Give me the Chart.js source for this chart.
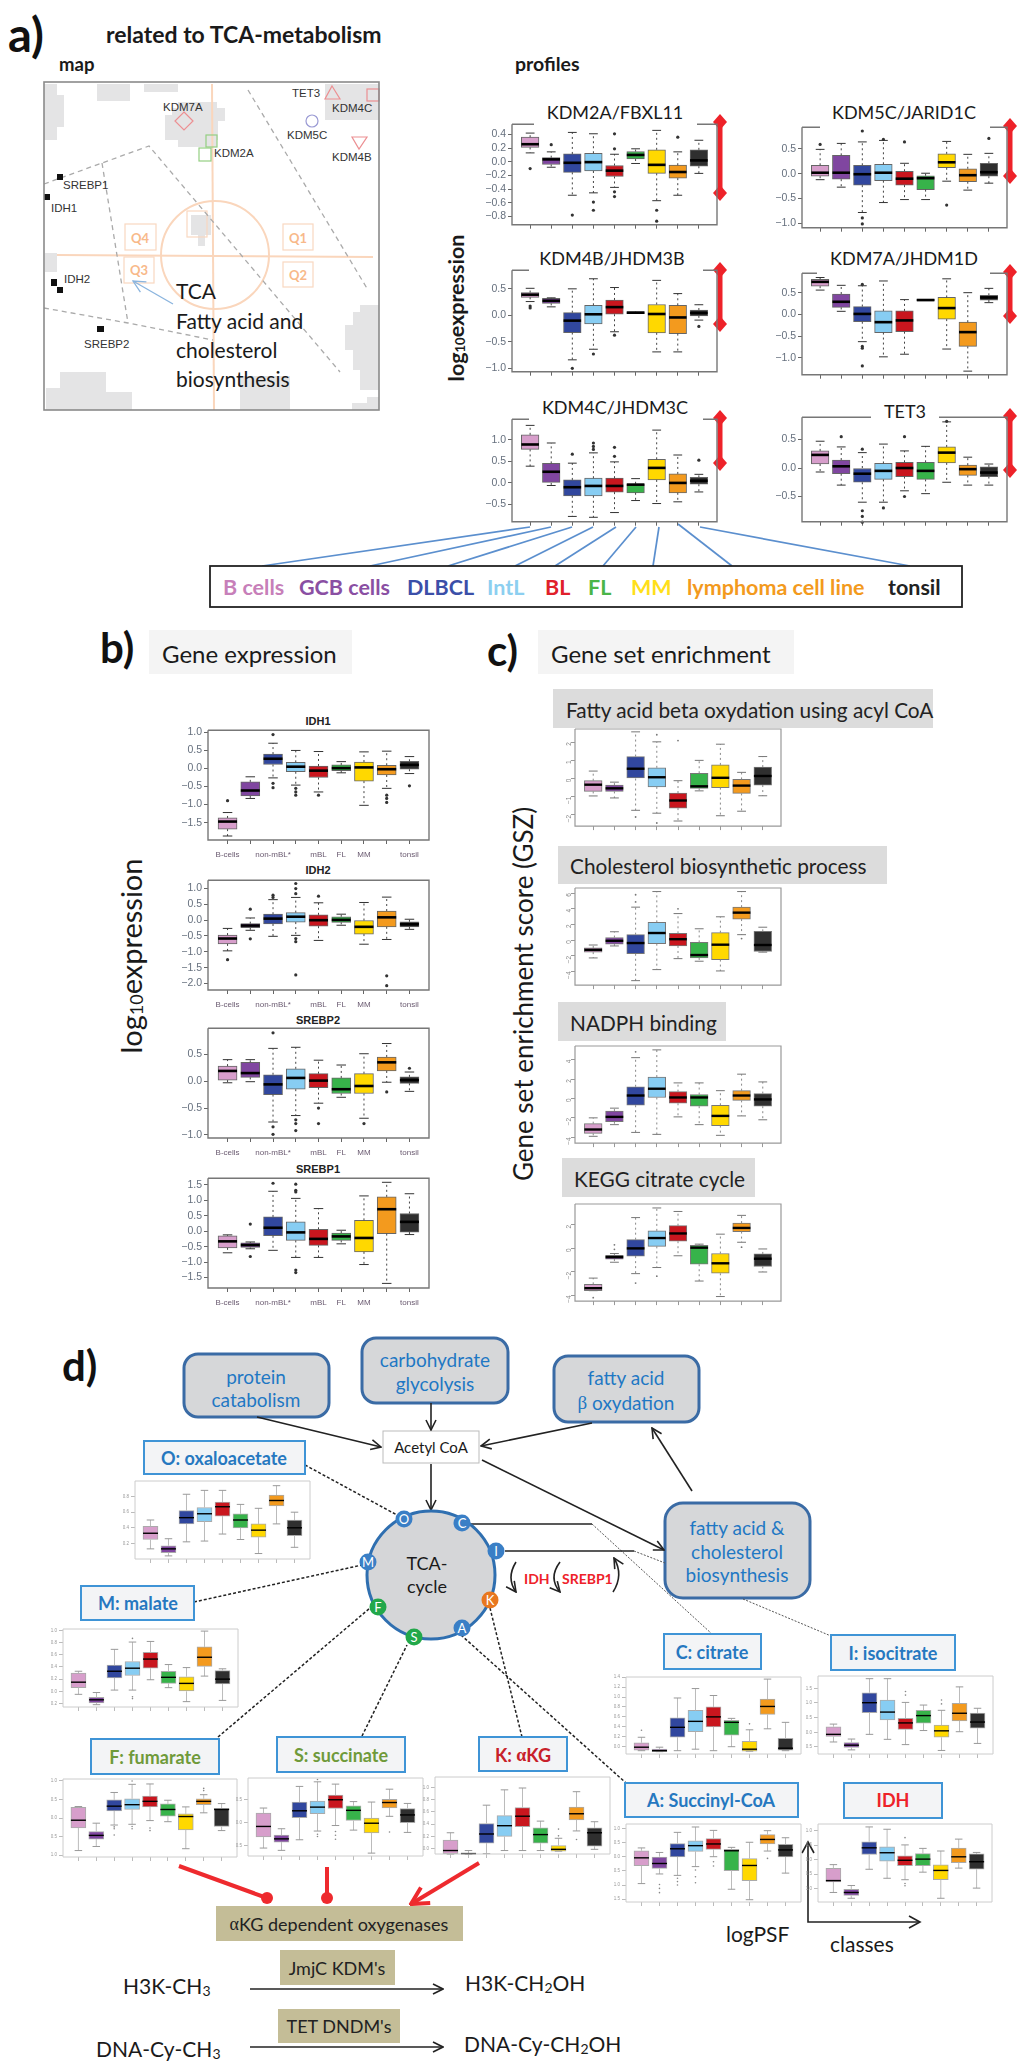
<!DOCTYPE html>
<html>
<head>
<meta charset="utf-8">
<title>TCA metabolism profiles</title>
<script src="https://cdn.jsdelivr.net/npm/chart.js@4"></script>
<style>
  html, body { margin: 0; padding: 0; background: #fff; }
  #page { position: relative; width: 1024px; height: 2067px; overflow: hidden; }
  #page svg { position: absolute; left: 0; top: 0; }
  #page canvas { position: absolute; }
  text { font-family: Lato, "Noto Sans", sans-serif; fill: #1a1a1a; dominant-baseline: central; }
  .g { font-family: "Liberation Serif", serif; }
  .gene { font-family: "Liberation Sans", sans-serif; font-size: 11.5px; fill: #333; }
  .q { font-size: 13px; font-weight: 700; fill: #f8b98a; text-anchor: middle; }
  .bt { font-family: "Liberation Sans", sans-serif; font-size: 11px; font-weight: 700; fill: #222; text-anchor: middle; }
  .pt { font-size: 18px; fill: #1a1a1a; text-anchor: middle; }
  .panel { font-size: 42px; font-weight: 700; fill: #111; }
  .blue { font-size: 19px; fill: #1f78c4; text-anchor: middle; }
  .met { font-size: 18px; font-weight: 700; text-anchor: middle; }
  .node { font-size: 13px; fill: #fff; text-anchor: middle; }
  .eq { font-size: 21px; fill: #1a1a1a; }
  .leg { font-size: 21.5px; font-weight: 700; }
  .tan { font-size: 18px; fill: #222; text-anchor: middle; }
  .hdr { font-size: 20.8px; fill: #222; }
  .blk { fill: #e4e4e5; }
  .qb { fill: none; stroke: #f9d8c0; stroke-width: 1.2; }
  .dash { fill: none; stroke: #aaa; stroke-width: 1.3; stroke-dasharray: 5 4; }
  .rbox { fill: #d6d7d9; stroke: #3a6ba5; stroke-width: 3; }
  .mbox { fill: #f3f4f6; stroke: #3f94d6; stroke-width: 2; }
  .ln { fill: none; stroke: #222; stroke-width: 1.6; }
  .dl { fill: none; stroke: #222; stroke-width: 1.5; stroke-dasharray: 3 2; }
  .thin { fill: none; stroke: #555; stroke-width: 1; stroke-dasharray: 2 1.5; }
  .red { fill: none; stroke: #ee2a2e; stroke-width: 4; }
  .cb { fill: #c4bd97; }
  .leader { stroke: #5b8fce; stroke-width: 1.7; }
</style>
</head>
<body>
<div id="page">

<svg width="1024" height="2067" viewBox="0 0 1024 2067">
  <defs>
    <marker id="arr" viewBox="0 0 12 12" refX="11" refY="6" markerWidth="12" markerHeight="12" orient="auto" markerUnits="userSpaceOnUse">
      <path d="M1 1 L11 6 L1 11" fill="none" stroke="#222" stroke-width="1.6"/>
    </marker>
    <marker id="arrBlue" viewBox="0 0 14 14" refX="13" refY="7" markerWidth="14" markerHeight="14" orient="auto" markerUnits="userSpaceOnUse">
      <path d="M1 1 L13 7 L1 13" fill="none" stroke="#8ab4de" stroke-width="1.3"/>
    </marker>
    <marker id="arrRed" viewBox="0 0 22 22" refX="20" refY="11" markerWidth="22" markerHeight="22" orient="auto" markerUnits="userSpaceOnUse">
      <path d="M3 2 L20 11 L3 20" fill="none" stroke="#ee2a2e" stroke-width="4"/>
    </marker>
  </defs>

  <!-- ============ PANEL A : MAP ============ -->
  <text class="panel" x="8" y="34" style="font-size:47px">a)</text>
  <text x="106" y="34" font-size="23" font-weight="700">related to TCA-metabolism</text>
  <text x="59" y="64" font-size="18.5" font-weight="700">map</text>
  <text x="515" y="63" font-size="19.5" font-weight="700">profiles</text>

  <rect x="44" y="82" width="335" height="328" fill="#fff"/>
  <g>
    <rect class="blk" x="44" y="84" width="13" height="56"/>
    <rect class="blk" x="57" y="95" width="7" height="32"/>
    <rect class="blk" x="97" y="84" width="33" height="17"/>
    <rect class="blk" x="144" y="84" width="34" height="8"/>
    <rect class="blk" x="165" y="115" width="53" height="25"/>
    <rect class="blk" x="172" y="108" width="53" height="13"/>
    <rect class="blk" x="178" y="102" width="39" height="45"/>
    <rect class="blk" x="191" y="215" width="20" height="20"/>
    <rect class="blk" x="198" y="235" width="7" height="11"/>
    <rect class="blk" x="45" y="253" width="12" height="19"/>
    <rect class="blk" x="325" y="84" width="54" height="36"/>
    <rect class="blk" x="353" y="312" width="26" height="58"/>
    <rect class="blk" x="345" y="325" width="34" height="25"/>
    <rect class="blk" x="360" y="305" width="19" height="85"/>
    <rect class="blk" x="367" y="397" width="12" height="10"/>
    <rect class="blk" x="352" y="403" width="27" height="7"/>
    <rect class="blk" x="60" y="372" width="46" height="38"/>
    <rect class="blk" x="46" y="388" width="14" height="22"/>
    <rect class="blk" x="106" y="392" width="26" height="18"/>
    <rect class="blk" x="240" y="376" width="50" height="34"/>
  </g>
  <g fill="none" stroke="#fad6bc" stroke-width="2">
    <line x1="57" y1="255" x2="373" y2="257"/>
    <line x1="212" y1="84" x2="214" y2="410"/>
    <circle cx="215" cy="255" r="54"/>
  </g>
  <rect class="qb" x="125" y="224" width="31" height="26"/><text class="q" x="140" y="238">Q4</text>
  <rect class="qb" x="283" y="224" width="30" height="26"/><text class="q" x="298" y="238">Q1</text>
  <rect class="qb" x="124" y="257" width="30" height="26"/><text class="q" x="139" y="270">Q3</text>
  <rect class="qb" x="283" y="262" width="30" height="25"/><text class="q" x="298" y="275">Q2</text>
  <rect class="qb" x="187" y="211" width="20" height="26"/>
  <polyline class="dash" points="44,184 149,146 340,372"/>
  <polyline class="dash" points="102,163 128,323"/>
  <polyline class="dash" points="44,308 128,323 213,340"/>
  <polyline class="dash" points="248,90 368,290"/>

  <text class="gene" x="163" y="107">KDM7A</text>
  <polygon points="184,112 193,121 184,130 175,121" fill="none" stroke="#ec8f92" stroke-width="1.2"/>
  <rect x="206" y="135" width="11" height="12" fill="none" stroke="#94cf82" stroke-width="1.2"/>
  <rect x="199" y="148" width="12" height="13" fill="none" stroke="#94cf82" stroke-width="1.2"/>
  <text class="gene" x="214" y="153">KDM2A</text>
  <rect x="57" y="174" width="6" height="6" fill="#111"/>
  <text class="gene" x="63" y="185">SREBP1</text>
  <rect x="44" y="194" width="6" height="6" fill="#111"/>
  <text class="gene" x="51" y="208">IDH1</text>
  <rect x="51" y="279" width="6" height="7" fill="#111"/>
  <rect x="57" y="287" width="6" height="6" fill="#111"/>
  <text class="gene" x="64" y="279">IDH2</text>
  <rect x="97" y="326" width="7" height="6" fill="#111"/>
  <text class="gene" x="84" y="344">SREBP2</text>
  <text class="gene" x="292" y="93">TET3</text>
  <polygon points="332,86 340,99 325,99" fill="none" stroke="#ec8f92" stroke-width="1.2"/>
  <circle cx="312" cy="121" r="6" fill="none" stroke="#9a9ad4" stroke-width="1.2"/>
  <text class="gene" x="287" y="135">KDM5C</text>
  <rect x="367" y="89" width="12" height="12" fill="none" stroke="#ec8f92" stroke-width="1.2"/>
  <text class="gene" x="332" y="108">KDM4C</text>
  <polygon points="352,137 367,137 359,149" fill="none" stroke="#ec8f92" stroke-width="1.2"/>
  <text class="gene" x="332" y="157">KDM4B</text>

  <line x1="173" y1="304" x2="133" y2="281" stroke="#8ab4de" stroke-width="1.3" marker-end="url(#arrBlue)"/>
  <text x="176" y="290" font-size="21">TCA</text>
  <text x="176" y="320" font-size="21">Fatty acid and</text>
  <text x="176" y="349" font-size="21">cholesterol</text>
  <text x="176" y="378" font-size="21">biosynthesis</text>
  <rect x="44" y="82" width="335" height="328" fill="none" stroke="#8a8a8a" stroke-width="1.6"/>

  <!-- ============ PANEL A : PROFILES ============ -->
  <text class="pt" x="615" y="112">KDM2A/FBXL11</text>
  <text class="pt" x="904" y="112">KDM5C/JARID1C</text>
  <text class="pt" x="612" y="258">KDM4B/JHDM3B</text>
  <text class="pt" x="904" y="258">KDM7A/JHDM1D</text>
  <text class="pt" x="615" y="407">KDM4C/JHDM3C</text>
  <text class="pt" x="905" y="411">TET3</text>
  <text transform="translate(456,308) rotate(-90)" text-anchor="middle" font-size="21.5" font-weight="700">log<tspan font-size="13" dy="4">10</tspan><tspan dy="-4">expression</tspan></text>

  <g fill="#ee2229" stroke="none">
    <rect x="717.5" y="122" width="5" height="71"/><polygon points="720,114 727,122 720,130 713,122"/><polygon points="720,185 727,193 720,201 713,193"/>
    <rect x="1007.5" y="126" width="5" height="50"/><polygon points="1010,118 1017,126 1010,134 1003,126"/><polygon points="1010,168 1017,176 1010,184 1003,176"/>
    <rect x="717.5" y="270" width="5" height="54"/><polygon points="720,262 727,270 720,278 713,270"/><polygon points="720,316 727,324 720,332 713,324"/>
    <rect x="1007.5" y="272" width="5" height="44"/><polygon points="1010,264 1017,272 1010,280 1003,272"/><polygon points="1010,308 1017,316 1010,324 1003,316"/>
    <rect x="717.5" y="418" width="5" height="45"/><polygon points="720,410 727,418 720,426 713,418"/><polygon points="720,455 727,463 720,471 713,463"/>
    <rect x="1007.5" y="416" width="5" height="54"/><polygon points="1010,408 1017,416 1010,424 1003,416"/><polygon points="1010,462 1017,470 1010,478 1003,470"/>
  </g>

  <g class="leader">
    <line x1="530" y1="527" x2="262" y2="566"/>
    <line x1="551" y1="527" x2="370" y2="566"/>
    <line x1="572" y1="527" x2="448" y2="566"/>
    <line x1="593" y1="527" x2="515" y2="566"/>
    <line x1="616" y1="527" x2="555" y2="566"/>
    <line x1="636" y1="527" x2="603" y2="566"/>
    <line x1="659" y1="527" x2="653" y2="566"/>
    <line x1="678" y1="524" x2="732" y2="566"/>
    <line x1="700" y1="527" x2="910" y2="566"/>
  </g>
  <rect x="210" y="566" width="752" height="41" fill="#fff" stroke="#222" stroke-width="1.8"/>
  <text class="leg" x="223" y="587" style="fill:#c77fb9">B cells</text>
  <text class="leg" x="299" y="587" style="fill:#8a4fa3">GCB cells</text>
  <text class="leg" x="407" y="587" style="fill:#3b4fa8">DLBCL</text>
  <text class="leg" x="487" y="587" style="fill:#8ccff0">IntL</text>
  <text class="leg" x="545" y="587" style="fill:#e0202a">BL</text>
  <text class="leg" x="588" y="587" style="fill:#4ab548">FL</text>
  <text class="leg" x="631" y="587" style="fill:#ffdf1a">MM</text>
  <text class="leg" x="687" y="587" style="fill:#f39a1d">lymphoma cell line</text>
  <text class="leg" x="888" y="587" style="fill:#222">tonsil</text>

  <!-- ============ PANEL B ============ -->
  <text class="panel" x="100" y="647">b)</text>
  <rect x="149" y="630" width="203" height="44" fill="#f4f4f4"/>
  <text x="162" y="653" font-size="24">Gene expression</text>
  <text class="bt" x="318" y="721">IDH1</text>
  <text class="bt" x="318" y="870">IDH2</text>
  <text class="bt" x="318" y="1020">SREBP2</text>
  <text class="bt" x="318" y="1169">SREBP1</text>
  <text transform="translate(130,956) rotate(-90)" text-anchor="middle" font-size="29">log<tspan font-size="18" dy="6">10</tspan><tspan dy="-6">expression</tspan></text>

  <!-- ============ PANEL C ============ -->
  <text class="panel" x="487" y="650">c)</text>
  <rect x="538" y="630" width="256" height="44" fill="#f4f4f4"/>
  <text x="551" y="653" font-size="24">Gene set enrichment</text>
  <rect x="553" y="689" width="380" height="39" fill="#dcdcdc"/>
  <text class="hdr" x="566" y="709">Fatty acid beta oxydation using acyl CoA</text>
  <rect x="558" y="846" width="329" height="38" fill="#dcdcdc"/>
  <text class="hdr" x="570" y="865">Cholesterol biosynthetic process</text>
  <rect x="558" y="1002" width="168" height="39" fill="#dcdcdc"/>
  <text class="hdr" x="570" y="1022">NADPH binding</text>
  <rect x="562" y="1158" width="193" height="39" fill="#dcdcdc"/>
  <text class="hdr" x="574" y="1178">KEGG citrate cycle</text>
  <text transform="translate(523,994) rotate(-90)" text-anchor="middle" font-size="26">Gene set enrichment score (GSZ)</text>

  <!-- ============ PANEL D ============ -->
  <text class="panel" x="62" y="1365">d)</text>

  <rect class="rbox" x="184" y="1354" width="145" height="63" rx="14"/>
  <text class="blue" x="256" y="1376">protein</text><text class="blue" x="256" y="1399">catabolism</text>
  <rect class="rbox" x="362" y="1338" width="146" height="65" rx="14"/>
  <text class="blue" x="435" y="1359">carbohydrate</text><text class="blue" x="435" y="1383">glycolysis</text>
  <rect class="rbox" x="554" y="1356" width="145" height="66" rx="14"/>
  <text class="blue" x="626" y="1377">fatty acid</text>
  <text class="blue" x="626" y="1402"><tspan class="g" style="fill:#1f78c4">β</tspan> oxydation</text>
  <rect class="rbox" x="665" y="1503" width="145" height="95" rx="18"/>
  <text class="blue" x="737" y="1527">fatty acid &amp;</text><text class="blue" x="737" y="1551">cholesterol</text><text class="blue" x="737" y="1574">biosynthesis</text>

  <rect x="383" y="1431" width="96" height="32" fill="#fff" stroke="#bbb" stroke-width="1"/>
  <text x="431" y="1447" font-size="15" text-anchor="middle">Acetyl CoA</text>

  <line class="ln" x1="257" y1="1417" x2="381" y2="1447" marker-end="url(#arr)"/>
  <line class="ln" x1="431" y1="1403" x2="431" y2="1430" marker-end="url(#arr)"/>
  <line class="ln" x1="592" y1="1423" x2="481" y2="1446" marker-end="url(#arr)"/>
  <line class="ln" x1="692" y1="1491" x2="652" y2="1428" marker-end="url(#arr)"/>
  <line class="ln" x1="482" y1="1460" x2="664" y2="1550" marker-end="url(#arr)"/>
  <line class="ln" x1="431" y1="1464" x2="431" y2="1510" marker-end="url(#arr)"/>

  <!-- dashed links -->
  <line class="dl" x1="305" y1="1465" x2="397" y2="1515"/>
  <line class="dl" x1="194" y1="1602" x2="362" y2="1565"/>
  <line class="dl" x1="218" y1="1737" x2="370" y2="1608"/>
  <line class="dl" x1="362" y1="1736" x2="407" y2="1645"/>
  <line class="dl" x1="490" y1="1608" x2="522" y2="1737"/>
  <line class="dl" x1="461" y1="1635" x2="626" y2="1783"/>
  <line class="ln" x1="470" y1="1524" x2="592" y2="1524"/>
  <line class="thin" x1="592" y1="1524" x2="712" y2="1634"/>
  <line class="ln" x1="505" y1="1551" x2="634" y2="1551"/>
  <line class="thin" x1="634" y1="1551" x2="665" y2="1563"/>
  <line class="thin" x1="743" y1="1599" x2="831" y2="1636"/>

  <circle cx="431" cy="1575" r="64" fill="#d5d6d8" stroke="#2f6fb0" stroke-width="3"/>
  <text x="427" y="1563" font-size="18" text-anchor="middle">TCA-</text>
  <text x="427" y="1586" font-size="18" text-anchor="middle">cycle</text>
  <circle cx="404" cy="1519" r="8.5" fill="#3a7fc6"/><text class="node" x="404" y="1519">O</text>
  <circle cx="462" cy="1523" r="8.5" fill="#3a7fc6"/><text class="node" x="462" y="1523">C</text>
  <circle cx="368" cy="1562" r="8.5" fill="#3a7fc6"/><text class="node" x="368" y="1562">M</text>
  <circle cx="496" cy="1551" r="8.5" fill="#3a7fc6"/><text class="node" x="496" y="1551">I</text>
  <circle cx="490" cy="1600" r="8.5" fill="#e8771f"/><text class="node" x="490" y="1600">K</text>
  <circle cx="462" cy="1628" r="8.5" fill="#3a7fc6"/><text class="node" x="462" y="1628">A</text>
  <circle cx="414" cy="1637" r="8.5" fill="#22a84a"/><text class="node" x="414" y="1637">S</text>
  <circle cx="378" cy="1607" r="8.5" fill="#22a84a"/><text class="node" x="378" y="1607">F</text>

  <path class="ln" d="M516 1562 Q506 1578 516 1592" marker-end="url(#arr)"/>
  <path class="ln" d="M560 1562 Q548 1578 560 1592" marker-end="url(#arr)"/>
  <path class="ln" d="M613 1592 Q624 1575 614 1558" marker-end="url(#arr)"/>
  <text x="524" y="1578" font-size="14" font-weight="700" style="fill:#ee2229">IDH</text>
  <text x="562" y="1578" font-size="14" font-weight="700" style="fill:#ee2229">SREBP1</text>

  <rect class="mbox" x="144" y="1441" width="161" height="33"/><text class="met" x="224" y="1458" style="fill:#2678c0">O: oxaloacetate</text>
  <rect class="mbox" x="81" y="1586" width="113" height="34"/><text class="met" x="138" y="1603" style="fill:#2678c0">M: malate</text>
  <rect class="mbox" x="91" y="1739" width="128" height="35"/><text class="met" x="155" y="1757" style="fill:#6f9a3a">F: fumarate</text>
  <rect class="mbox" x="277" y="1737" width="128" height="35"/><text class="met" x="341" y="1755" style="fill:#6f9a3a">S: succinate</text>
  <rect class="mbox" x="479" y="1737" width="88" height="34"/><text class="met" x="523" y="1755" style="fill:#c8202a">K: <tspan class="g" style="fill:#c8202a">α</tspan>KG</text>
  <rect class="mbox" x="664" y="1634" width="97" height="35"/><text class="met" x="712" y="1652" style="fill:#2678c0">C: citrate</text>
  <rect class="mbox" x="831" y="1635" width="124" height="35"/><text class="met" x="893" y="1653" style="fill:#2678c0">I: isocitrate</text>
  <rect class="mbox" x="625" y="1783" width="173" height="34"/><text class="met" x="711" y="1800" style="fill:#2678c0">A: Succinyl-CoA</text>
  <rect class="mbox" x="844" y="1783" width="98" height="35"/><text class="met" x="893" y="1800" style="fill:#ee2229">IDH</text>

  <line class="red" x1="179" y1="1866" x2="267" y2="1898"/><circle cx="267" cy="1898" r="6" fill="#ee2a2e"/>
  <line class="red" x1="327" y1="1867" x2="327" y2="1898"/><circle cx="327" cy="1898" r="6" fill="#ee2a2e"/>
  <line class="red" x1="479" y1="1863" x2="411" y2="1904" marker-end="url(#arrRed)"/>

  <rect class="cb" x="216" y="1906" width="247" height="35"/>
  <text class="tan" x="339" y="1924" font-size="19"><tspan class="g">α</tspan>KG dependent oxygenases</text>
  <rect class="cb" x="280" y="1950" width="115" height="35"/>
  <text class="tan" x="337" y="1968">JmjC KDM's</text>
  <rect class="cb" x="278" y="2009" width="122" height="34"/>
  <text class="tan" x="339" y="2026">TET DNDM's</text>

  <line class="ln" x1="250" y1="1989" x2="443" y2="1989" marker-end="url(#arr)"/>
  <line class="ln" x1="250" y1="2047" x2="443" y2="2047" marker-end="url(#arr)"/>
  <text class="eq" x="123" y="1985">H3K-CH<tspan font-size="14" dy="5">3</tspan></text>
  <text class="eq" x="465" y="1982">H3K-CH<tspan font-size="14" dy="5">2</tspan><tspan dy="-5">OH</tspan></text>
  <text class="eq" x="96" y="2048">DNA-Cy-CH<tspan font-size="14" dy="5">3</tspan></text>
  <text class="eq" x="464" y="2043">DNA-Cy-CH<tspan font-size="14" dy="5">2</tspan><tspan dy="-5">OH</tspan></text>

  <polyline class="ln" points="808,1843 808,1922 919,1922"/>
  <path class="ln" d="M802 1853 L808 1842 L814 1853"/>
  <path class="ln" d="M909 1916 L920 1922 L909 1928"/>
  <text x="726" y="1933" font-size="21">logPSF</text>
  <text x="830" y="1943" font-size="21">classes</text>
</svg>

<script>
// ============================================================
// DATA  (each box row: low whisker, q1, median, q3, high whisker)
// ============================================================

const classNames = ["B cells", "GCB cells", "DLBCL", "IntL", "BL", "FL", "MM", "lymphoma cell line", "tonsil"];
const classColors = ["#d79ecb", "#8046a0", "#31479e", "#87cdf3", "#c9161e", "#37b34a", "#ffd800", "#f39a1e", "#2f2f2f"];
const geneTickLabels = ["B-cells", "", "non-mBL*", "", "mBL", "FL", "MM", "", "tonsil"];

// ---------------- a) profiles
const kdm2aTicks = [0.4, 0.2, 0, -0.2, -0.4, -0.6, -0.8];
const kdm2aBoxes = [[.13,.21,.257,.36,.42],[-.08,-.04,.035,.06,.145],[-.49,-.155,-.015,.115,.43],[-.455,-.135,-.005,.125,.41],[-.375,-.215,-.13,-.055,.11],[-.025,.04,.10,.15,.19],[-.57,-.17,-.045,.175,.46],[-.49,-.24,-.15,-.05,.145],[-.17,-.065,.02,.175,.315]];
const kdm2aOut = [[1,-.10],[2,.25],[3,-.78],[4,-.59],[4,-.71],[5,.41],[5,.19],[5,-.44],[5,-.51],[7,-.71],[7,-.87],[8,.36]];

const kdm5cTicks = [0.5, 0, -0.5, -1];
const kdm5cBoxes = [[-.12,-.05,.02,.17,.49],[-.27,-.11,.02,.37,.61],[-.78,-.23,-.01,.17,.64],[-.58,-.14,.02,.19,.67],[-.52,-.23,-.10,.05,.21],[-.52,-.32,-.09,-.04,.01],[-.15,.12,.23,.40,.65],[-.33,-.16,-.03,.10,.39],[-.19,-.05,.03,.21,.41]];
const kdm5cOut = [[1,.59],[3,.86],[3,-.89],[3,-1.01],[4,.69],[5,.64],[7,-.63],[9,.71]];

const kdm4bTicks = [0.5, 0, -0.5, -1];
const kdm4bBoxes = [[.26,.34,.39,.43,.51],[.16,.225,.275,.32,.33],[-.84,-.325,-.10,.05,.50],[-.64,-.16,.02,.19,.69],[-.31,.02,.155,.29,.525],[.05,.03,.05,.07,.05],[-.69,-.33,.025,.205,.66],[-.69,-.345,-.04,.19,.41],[-.09,-.01,.045,.10,.20]];
const kdm4bOut = [[1,.175],[1,.14],[3,-1.0],[4,-.73],[5,-.375],[9,-.21]];

const kdm7aTicks = [0.5, 0, -0.5, -1];
const kdm7aBoxes = [[.56,.65,.75,.81,.85],[.07,.16,.29,.47,.67],[-.63,-.17,.01,.18,.66],[-.98,-.42,-.18,.08,.77],[-.92,-.40,-.14,.08,.34],[.33,.31,.33,.35,.33],[-.80,-.11,.145,.39,.82],[-1.31,-.74,-.41,-.18,.50],[.27,.33,.39,.44,.60]];
const kdm7aOut = [[3,.69],[3,-.74],[3,-.78],[3,-1.19]];

const kdm4cTicks = [1, 0.5, 0, -0.5];
const kdm4cBoxes = [[.39,.78,.895,1.12,1.34],[-.06,0,.26,.455,.93],[-.78,-.30,-.10,.07,.46],[-.80,-.30,-.07,.11,.70],[-.69,-.215,-.07,.11,.49],[-.41,-.23,-.04,-.02,.10],[-.48,.07,.35,.55,1.23],[-.44,-.23,0,.21,.65],[-.21,-.03,.05,.13,.20]];
const kdm4cOut = [[3,.67],[4,.93],[4,.85],[4,.78],[5,.83],[5,.62],[9,.53]];

const tet3Ticks = [0.5, 0, -0.5];
const tet3Boxes = [[-.07,.07,.23,.30,.47],[-.30,-.10,.03,.14,.37],[-.60,-.25,-.10,0,.27],[-.60,-.20,-.05,.08,.42],[-.40,-.15,0,.10,.30],[-.45,-.20,-.05,.10,.38],[-.25,.09,.27,.37,.81],[-.30,-.13,-.02,.05,.19],[-.30,-.15,-.08,.02,.07]];
const tet3Out = [[2,.55],[3,.33],[3,-.75],[3,-.85],[3,-.95],[4,-.70],[5,.55],[5,-.50],[7,.82]];

// ---------------- b) gene expression
const idh1Ticks = [1, 0.5, 0, -0.5, -1, -1.5];
const idh1Boxes = [[-1.87,-1.68,-1.47,-1.37,-1.22],[-.83,-.76,-.61,-.37,-.23],[-.26,.11,.27,.40,.70],[-.46,-.09,.05,.17,.50],[-.65,-.25,-.06,.07,.47],[-.12,-.06,.01,.10,.19],[-1.02,-.35,.03,.18,.46],[-.55,-.18,-.02,.09,.48],[-.14,-.02,.10,.20,.33]];
const idh1Out = [[1,-.89],[3,.94],[3,-.41],[3,-.53],[4,-.55],[4,-.65],[4,-.74],[5,-.74],[8,-.74],[8,-.83],[8,-.94],[9,-.48]];

const idh2Ticks = [1, 0.5, 0, -0.5, -1, -1.5, -2];
const idh2Boxes = [[-.97,-.75,-.58,-.47,-.26],[-.32,-.24,-.17,-.11,.07],[-.51,-.12,.05,.19,.65],[-.48,-.06,.11,.24,.72],[-.64,-.19,0,.17,.55],[-.16,-.07,.01,.11,.19],[-.76,-.44,-.21,-.01,.56],[-.61,-.21,.09,.29,.73],[-.29,-.21,-.13,-.05,.03]];
const idh2Out = [[1,-1.25],[2,.35],[2,-.59],[3,.79],[3,.72],[4,1.16],[4,1],[4,.84],[4,-.58],[4,-.68],[4,-1.73],[5,.76],[8,-1.76],[8,-2.07]];

const srebp2Ticks = [0.5, 0, -0.5, -1];
const srebp2Boxes = [[-.03,.02,.19,.28,.40],[-.01,.07,.15,.35,.40],[-.76,-.25,-.06,.12,.61],[-.64,-.15,.06,.23,.63],[-.41,-.12,.01,.14,.39],[-.30,-.23,-.15,.06,.30],[-.69,-.23,-.09,.14,.51],[-.02,.19,.35,.45,.70],[-.19,-.04,.02,.08,.17]];
const srebp2Out = [[3,.90],[3,-.85],[3,-.99],[4,-.72],[4,-.79],[4,-.92],[5,-.50],[5,-.79],[7,-.79],[8,-.20],[9,.24]];

const srebp1Ticks = [1.5, 1, 0.5, 0, -0.5, -1, -1.5];
const srebp1Boxes = [[-.70,-.54,-.33,-.15,-.12],[-.57,-.53,-.45,-.38,-.35],[-.62,-.15,.11,.46,1.29],[-.85,-.30,-.04,.30,1.06],[-.85,-.46,-.25,.06,.73],[-.41,-.30,-.17,-.06,.03],[-1.08,-.67,-.22,.35,1.14],[-1.69,-.08,.71,1.11,1.58],[-.11,-.03,.30,.57,1.21]];
const srebp1Out = [[2,.23],[2,-.82],[3,1.55],[4,1.52],[4,1.32],[4,1.27],[4,-1.26],[4,-1.34]];

// ---------------- c) gene set enrichment
const fattyTicks = [2, 1, 0, -1, -2];
const fattyBoxes = [[-.96,-.71,-.34,-.12,.41],[-1.07,-.71,-.54,-.36,-.20],[-1.75,0,.54,1.21,2.57],[-1.91,-.46,.07,.59,2.02],[-2.34,-1.63,-1.21,-.80,-.12],[-.68,-.54,-.43,.29,1.0],[-2.05,-.50,.04,.75,1.89],[-1.80,-.82,-.39,-.05,.34],[-.95,-.36,.14,.63,1.21]];
const fattyOut = [[3,-2.12],[4,2.41],[4,-2.45],[5,2.09]];

const cholTicks = [6, 4, 2, 0, -2, -4];
const cholBoxes = [[-2.27,-1.53,-1.24,-.99,-.62],[-.74,-.5,-.08,.33,1.07],[-5.17,-1.74,-.37,.70,4.21],[-3.76,-.45,.91,2.27,6.2],[-2.36,-.74,.12,.87,3.39],[-2.69,-2.27,-1.9,-.29,1.45],[-3.93,-2.48,-.58,.95,2.98],[.70,2.69,3.51,4.21,6.2],[-1.53,-1.45,-.62,1.12,1.65]];
const cholOut = [[3,5.79],[3,4.88],[5,4.0],[8,.2]];

const nadphTicks = [4, 2, 0, -2, -4];
const nadphBoxes = [[-3.9,-3.6,-3.2,-2.6,-2.0],[-2.7,-2.4,-1.9,-1.3,-1.0],[-3.5,-.7,.3,1.2,4.2],[-3.7,.1,1.0,2.2,5.0],[-1.9,-.5,.1,.7,1.6],[-2.7,-.8,.1,.4,1.6],[-3.8,-2.8,-1.8,-.7,.8],[-1.8,-.2,.3,.8,2.5],[-2.2,-.8,-.1,.5,1.7]];
const nadphOut = [[3,4.8]];

const keggTicks = [2, 0, -2, -4];
const keggBoxes = [[-3.6,-3.61,-3.39,-3.06,-2.53],[-1.18,-.91,-.74,-.6,-.44],[-2.15,-.66,0,.74,2.62],[-1.63,.17,.88,1.49,3.44],[-.63,.61,1.27,1.93,3.14],[-2.78,-1.35,.06,.25,.36],[-4.1,-2.12,-1.27,-.44,1.21],[.52,1.43,1.74,2.15,2.81],[-2.01,-1.54,-.88,-.47,-.05]];
const keggOut = [[1,-4.2],[2,.3],[2,-.08],[3,-2.95],[4,-2.37],[8,.1]];

// ---------------- d) metabolites
const oxaTicks = [0.8, 0.6, 0.4, 0.2];
const oxaBoxes = [[.13,.25,.33,.42,.5],[.04,.08,.13,.17,.26],[.22,.45,.53,.62,.83],[.23,.48,.58,.66,.88],[.32,.55,.67,.73,.88],[.25,.4,.5,.58,.7],[.07,.28,.37,.45,.65],[.45,.68,.75,.82,.94],[.15,.3,.4,.5,.6]];
const oxaOut = [];

const malTicks = [1, 0.8, 0.6, 0.4, 0.2, 0, -0.2];
const malBoxes = [[-.05,.06,.15,.30,.33],[-.22,-.19,-.14,-.10,-.02],[.02,.22,.33,.43,.69],[.02,.26,.38,.49,.81],[.19,.38,.53,.64,.82],[.06,.13,.23,.33,.44],[-.17,0,.13,.24,.39],[.25,.41,.56,.73,.99],[-.15,.12,.20,.34,.37]];
const malOut = [[4,.87],[4,-.09],[4,-.12]];

const fumTicks = [1, 0.5, 0, -0.5, -1];
const fumBoxes = [[-.88,-.27,-.06,.29,.31],[-.77,-.57,-.47,-.37,-.14],[-.19,.19,.32,.49,.69],[-.17,.23,.36,.52,.91],[-.07,.30,.45,.59,.92],[-.10,.05,.23,.38,.48],[-.83,-.32,.04,.11,.30],[.14,.36,.45,.52,.63],[-.34,-.23,.23,.26,.39]];
const fumOut = [[3,-.24],[3,-.29],[3,-.46],[4,1.0],[4,-.23],[4,-.29],[5,-.27],[5,-.34],[8,.80],[8,.74]];

const sucTicks = [0.5, 0, -0.5];
const sucBoxes = [[-.56,-.32,-.09,.20,.31],[-.61,-.43,-.36,-.28,-.14],[-.38,.10,.25,.44,.78],[-.19,.19,.33,.46,.88],[-.07,.30,.49,.59,.83],[-.17,.04,.26,.36,.45],[-.67,-.23,-.02,.09,.44],[.13,.31,.43,.50,.72],[-.22,-.01,.16,.30,.41]];
const sucOut = [[4,.93],[4,-.26],[4,-.31],[5,-.20],[5,-.28],[5,-.37],[8,-.21]];

const akgTicks = [1, 0.8, 0.6, 0.4, 0.2, 0];
const akgBoxes = [[-.09,-.08,-.03,.14,.26],[-.09,-.09,-.08,-.07,-.03],[-.08,.09,.24,.41,.71],[-.03,.20,.375,.54,.96],[-.03,.36,.53,.67,.99],[-.03,.09,.23,.34,.45],[-.04,-.04,-.01,.05,.17],[.29,.47,.57,.68,.93],[-.01,.04,.26,.34,.44]];
const akgOut = [[7,.32],[7,.21],[8,.15]];

const citTicks = [1.4, 1.2, 1, 0.8, 0.6, 0.4, 0.2, 0];
const citBoxes = [[-.08,-.07,-.01,.08,.19],[-.10,-.10,-.08,-.05,-.01],[-.08,.19,.39,.58,.98],[-.05,.30,.51,.73,1.17],[-.08,.40,.60,.80,1.03],[0,.23,.49,.53,.57],[-.09,-.09,-.05,.11,.34],[.36,.65,.81,.96,1.36],[-.08,-.07,-.03,.17,.49]];
const citOut = [[1,.33],[7,.46]];

const isoTicks = [1.5, 1, 0.5, 0, -0.5];
const isoBoxes = [[-.33,-.14,-.07,.19,.28],[-.60,-.52,-.44,-.35,-.23],[-.07,.67,1.01,1.35,1.83],[-.24,.42,.69,1.10,1.83],[-.42,.10,.32,.48,1.02],[.06,.31,.57,.75,.93],[-.62,-.17,.05,.25,.75],[.02,.39,.65,.99,1.55],[-.38,.14,.35,.66,.82]];
const isoOut = [[5,1.39],[5,1.27],[7,1.10],[7,.97]];

const sucCoaTicks = [1, 0.5, 0, -0.5, -1, -1.5];
const sucCoaBoxes = [[-.95,-.32,-.04,.21,.31],[-.61,-.41,-.24,0,.15],[-.66,-.01,.28,.46,.86],[-.35,.19,.39,.56,1.05],[0,.26,.45,.64,.93],[-1.15,-.49,.21,.26,.33],[-1.52,-.85,-.31,-.07,.51],[.20,.45,.61,.78,.92],[-.58,-.01,.24,.44,.67]];
const sucCoaOut = [[2,-.98],[2,-1.12],[2,-1.27],[3,-.76],[3,-.88],[3,-1.0],[4,-.47],[4,-.71],[4,-.92],[5,-.18],[5,-.33],[8,-.06]];

const idhTicks = [1, 0.5, 0, -0.5, -1];
const idhBoxes = [[-1.13,-.77,-.72,-.30,-.17],[-1.33,-1.23,-1.13,-1.02,-.89],[-.33,.18,.41,.62,1.13],[-.64,-.05,.24,.44,1.05],[-.69,-.21,-.02,.13,.51],[-.43,-.21,.02,.21,.39],[-1.33,-.69,-.37,-.18,.30],[-.29,-.10,.10,.40,.71],[-.98,-.33,-.07,.20,.25]];
const idhOut = [[5,.76],[5,-.82],[5,-.90]];


// ============================================================
// PANEL STYLES AND POSITIONS
// ============================================================

const styleA = { tickFont: 10.5, tickColor: "#66707e", leftW: 30, bottomH: 8, digits: 1, whisker: "#444", cap: "#333", frame: "#777", frameW: 1.4, boxEdge: "#666", median: 2.6, point: 1.6, pointColor: "#333", dash: [2, 3], tickMark: "#666" };
const styleB = { ...styleA, tickFont: 10.5, bottomH: 24, labels: geneTickLabels, frame: "#777" };
const styleC = { tickFont: 6.5, tickColor: "#888", leftW: 16, bottomH: 3, digits: 0, rotate: 90, whisker: "#888", cap: "#777", frame: "#999", frameW: 1.2, boxEdge: "#777", median: 2.4, point: 0.9, pointColor: "#777", dash: [2, 3], tickMark: "#999" };
const styleD = { tickFont: 4.5, tickColor: "#999", leftW: 12, bottomH: 6, digits: 1, whisker: "#bbb", cap: "#999", frame: "#ccc", frameW: 1, boxEdge: "#aaa", median: 1.4, point: 0.8, pointColor: "#888", dash: [], tickMark: "#bbb" };

// gaps = stretch of the top frame line left open for the title
const panels = [
  { id: "kdm2a", boxes: kdm2aBoxes, out: kdm2aOut, ticks: kdm2aTicks, style: styleA, left: 512, right: 717, top: 124, bottom: 225, zero: 161.7, unit: 68.7, width: 17.6, gap: [534, 697] },
  { id: "kdm5c", boxes: kdm5cBoxes, out: kdm5cOut, ticks: kdm5cTicks, style: styleA, left: 802, right: 1007, top: 127, bottom: 228, zero: 173.7, unit: 50, width: 17.6, gap: [820, 990] },
  { id: "kdm4b", boxes: kdm4bBoxes, out: kdm4bOut, ticks: kdm4bTicks, style: styleA, left: 512, right: 717, top: 270, bottom: 372, zero: 315.3, unit: 53.3, width: 17.6, gap: [529, 703] },
  { id: "kdm7a", boxes: kdm7aBoxes, out: kdm7aOut, ticks: kdm7aTicks, style: styleA, left: 802, right: 1007, top: 273, bottom: 375, zero: 314.3, unit: 43.6, width: 17.6, gap: [817, 990] },
  { id: "kdm4c", boxes: kdm4cBoxes, out: kdm4cOut, ticks: kdm4cTicks, style: styleA, left: 512, right: 717, top: 419, bottom: 522, zero: 483, unit: 43.2, width: 17.6, gap: [529, 703] },
  { id: "tet3", boxes: tet3Boxes, out: tet3Out, ticks: tet3Ticks, style: styleA, left: 802, right: 1007, top: 417, bottom: 522, zero: 468, unit: 57.3, width: 17.6, gap: [871, 939] },

  { id: "idh1", boxes: idh1Boxes, out: idh1Out, ticks: idh1Ticks, style: styleB, left: 208, right: 429, top: 730, bottom: 840, zero: 768.3, unit: 36.2, width: 19 },
  { id: "idh2", boxes: idh2Boxes, out: idh2Out, ticks: idh2Ticks, style: styleB, left: 208, right: 429, top: 880, bottom: 990, zero: 920, unit: 31.7, width: 19 },
  { id: "srebp2", boxes: srebp2Boxes, out: srebp2Out, ticks: srebp2Ticks, style: styleB, left: 208, right: 429, top: 1028, bottom: 1138, zero: 1081, unit: 53.9, width: 19 },
  { id: "srebp1", boxes: srebp1Boxes, out: srebp1Out, ticks: srebp1Ticks, style: styleB, left: 208, right: 429, top: 1178, bottom: 1288, zero: 1231, unit: 31, width: 19 },

  { id: "fatty", boxes: fattyBoxes, out: fattyOut, ticks: fattyTicks, style: styleC, left: 575, right: 781, top: 729, bottom: 829, zero: 780, unit: 18.7, width: 17.7 },
  { id: "chol", boxes: cholBoxes, out: cholOut, ticks: cholTicks, style: styleC, left: 575, right: 781, top: 888, bottom: 988, zero: 941.7, unit: 8.07, width: 17.7 },
  { id: "nadph", boxes: nadphBoxes, out: nadphOut, ticks: nadphTicks, style: styleC, left: 575, right: 781, top: 1046, bottom: 1146, zero: 1100, unit: 10, width: 17.7 },
  { id: "kegg", boxes: keggBoxes, out: keggOut, ticks: keggTicks, style: styleC, left: 575, right: 781, top: 1204, bottom: 1304, zero: 1249.7, unit: 12.1, width: 17.7 },

  { id: "oxa", boxes: oxaBoxes, out: oxaOut, ticks: oxaTicks, style: styleD, left: 135, right: 310, top: 1481, bottom: 1559, zero: 1559, unit: 78, width: 15 },
  { id: "mal", boxes: malBoxes, out: malOut, ticks: malTicks, style: styleD, left: 63, right: 238, top: 1629, bottom: 1707, zero: 1691.3, unit: 60.8, width: 15 },
  { id: "fum", boxes: fumBoxes, out: fumOut, ticks: fumTicks, style: styleD, left: 63, right: 237, top: 1779, bottom: 1857, zero: 1818, unit: 37, width: 15 },
  { id: "suc", boxes: sucBoxes, out: sucOut, ticks: sucTicks, style: styleD, left: 248, right: 423, top: 1778, bottom: 1856, zero: 1822.3, unit: 46, width: 15 },
  { id: "akg", boxes: akgBoxes, out: akgOut, ticks: akgTicks, style: styleD, left: 435, right: 610, top: 1777, bottom: 1854, zero: 1848.7, unit: 61.3, width: 15 },
  { id: "cit", boxes: citBoxes, out: citOut, ticks: citTicks, style: styleD, left: 626, right: 801, top: 1677, bottom: 1754, zero: 1746.7, unit: 49.7, width: 15 },
  { id: "iso", boxes: isoBoxes, out: isoOut, ticks: isoTicks, style: styleD, left: 818, right: 993, top: 1676, bottom: 1754, zero: 1732.3, unit: 29.3, width: 15 },
  { id: "sucCoa", boxes: sucCoaBoxes, out: sucCoaOut, ticks: sucCoaTicks, style: styleD, left: 626, right: 801, top: 1824, bottom: 1902, zero: 1856.7, unit: 28.3, width: 15 },
  { id: "idh", boxes: idhBoxes, out: idhOut, ticks: idhTicks, style: styleD, left: 818, right: 992, top: 1824, bottom: 1902, zero: 1859.7, unit: 29, width: 15 }
];


// ============================================================
// BOX PLOT PLUGIN : whiskers, medians, frame
// ============================================================

const boxPlotPlugin = {
  id: "boxPlot",
  afterDatasetsDraw(chart, args, opts) {
    const { ctx, scales: { x, y }, chartArea: a } = chart;
    const s = opts.style;
    const half = opts.width / 2;

    ctx.save();
    opts.boxes.forEach((b, i) => {
      const px = x.getPixelForValue(i + 1);
      const [lo, q1, med, q3, hi] = b.map(v => y.getPixelForValue(v));

      ctx.strokeStyle = s.whisker;
      ctx.lineWidth = 1;
      ctx.setLineDash(s.dash);
      ctx.beginPath();
      ctx.moveTo(px, q3); ctx.lineTo(px, hi);
      ctx.moveTo(px, q1); ctx.lineTo(px, lo);
      ctx.stroke();
      ctx.setLineDash([]);

      ctx.strokeStyle = s.cap;
      ctx.beginPath();
      ctx.moveTo(px - half / 2, hi); ctx.lineTo(px + half / 2, hi);
      ctx.moveTo(px - half / 2, lo); ctx.lineTo(px + half / 2, lo);
      ctx.stroke();

      ctx.strokeStyle = "#000";
      ctx.lineWidth = s.median;
      ctx.beginPath();
      ctx.moveTo(px - half, med); ctx.lineTo(px + half, med);
      ctx.stroke();
    });

    ctx.strokeStyle = s.frame;
    ctx.lineWidth = s.frameW;
    ctx.beginPath();
    ctx.moveTo(a.left, a.top);
    ctx.lineTo(a.left, a.bottom);
    ctx.lineTo(a.right, a.bottom);
    ctx.lineTo(a.right, a.top);
    const off = opts.offsetX;
    if (opts.gap) {
      ctx.lineTo(opts.gap[1] - off, a.top);
      ctx.moveTo(opts.gap[0] - off, a.top);
      ctx.lineTo(a.left, a.top);
    } else {
      ctx.lineTo(a.left, a.top);
    }
    ctx.stroke();
    ctx.restore();
  }
};


// ============================================================
// DRAW ONE PANEL
// ============================================================

function drawPanel(p) {

  const s = p.style;
  const padTop = 8;
  const padRight = 6;

  const canvas = document.createElement("canvas");
  canvas.id = p.id;
  canvas.width = p.right - p.left + s.leftW + padRight;
  canvas.height = p.bottom - p.top + padTop + s.bottomH;
  canvas.style.left = (p.left - s.leftW) + "px";
  canvas.style.top = (p.top - padTop) + "px";
  document.getElementById("page").appendChild(canvas);

  new Chart(canvas.getContext("2d"), {
    type: "bar",
    data: {
      datasets: [
        {
          data: p.boxes.map((b, i) => ({ x: i + 1, y: [b[1], b[3]] })),
          backgroundColor: classColors,
          borderColor: s.boxEdge,
          borderWidth: 1,
          borderSkipped: false,
          barThickness: p.width
        },
        {
          type: "scatter",
          data: p.out.map(o => ({ x: o[0], y: o[1] })),
          pointRadius: s.point,
          pointBackgroundColor: s.pointColor,
          pointBorderWidth: 0,
          showLine: false,
          clip: false
        }
      ]
    },
    options: {
      responsive: false,
      animation: false,
      devicePixelRatio: 1,
      layout: { padding: { top: padTop, right: padRight, left: 0, bottom: 0 } },
      plugins: {
        legend: { display: false },
        tooltip: { enabled: false },
        boxPlot: { boxes: p.boxes, style: s, width: p.width, gap: p.gap, offsetX: p.left - s.leftW }
      },
      scales: {
        x: {
          type: "linear",
          min: 0.14,
          max: 9.86,
          offset: false,
          afterBuildTicks: sc => { sc.ticks = classNames.map((n, i) => ({ value: i + 1 })); },
          afterFit: sc => { sc.height = s.bottomH; },
          border: { display: false },
          grid: { offset: false, drawOnChartArea: false, drawTicks: true, tickLength: 4, color: s.tickMark },
          ticks: {
            display: !!s.labels,
            autoSkip: false,
            maxRotation: 0,
            padding: 6,
            font: { size: 8, family: "Liberation Sans" },
            color: "#6a5a70",
            callback: v => (s.labels ? s.labels[v - 1] : "")
          }
        },
        y: {
          min: (p.zero - p.bottom) / p.unit,
          max: (p.zero - p.top) / p.unit,
          afterBuildTicks: sc => { sc.ticks = p.ticks.map(v => ({ value: v })); },
          afterFit: sc => { sc.width = s.leftW; },
          border: { display: false },
          grid: { drawOnChartArea: false, drawTicks: true, tickLength: 4, color: s.tickMark },
          ticks: {
            autoSkip: false,
            padding: 2,
            minRotation: s.rotate || 0,
            maxRotation: s.rotate || 0,
            font: { size: s.tickFont, family: "Liberation Sans" },
            color: s.tickColor,
            callback: v => v.toFixed(s.digits).replace("-", "\u2212")
          }
        }
      }
    },
    plugins: [boxPlotPlugin]
  });
}

panels.forEach(drawPanel);
</script>
</div>
</body>
</html>
